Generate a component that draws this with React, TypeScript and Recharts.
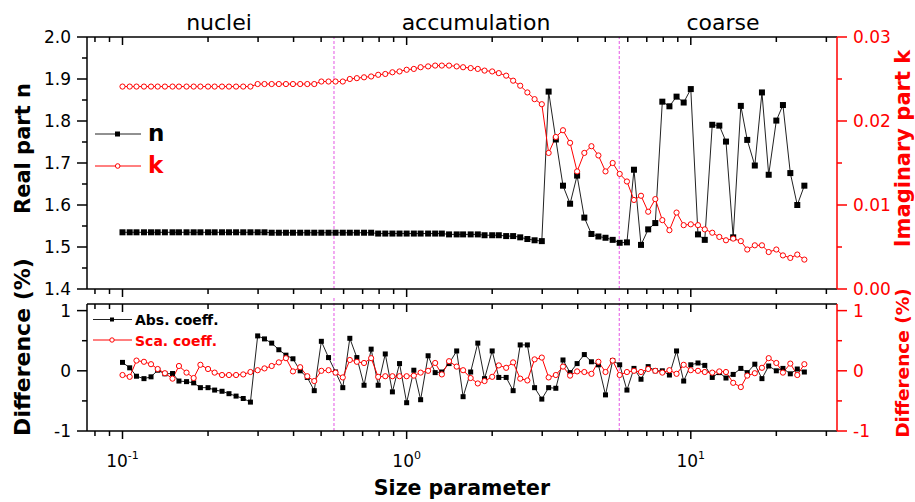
import { ComposedChart, Line, XAxis, YAxis, ReferenceLine } from 'recharts'

const sizeParam = [
  0.1, 0.106, 0.112, 0.119, 0.126, 0.133, 0.141, 0.15, 0.158, 0.168,
  0.178, 0.188, 0.2, 0.211, 0.224, 0.237, 0.251, 0.266, 0.282, 0.299,
  0.316, 0.335, 0.355, 0.376, 0.398, 0.422, 0.447, 0.473, 0.501, 0.531,
  0.562, 0.596, 0.631, 0.668, 0.708, 0.75, 0.794, 0.841, 0.891, 0.944,
  1.0, 1.06, 1.12, 1.19, 1.26, 1.33, 1.41, 1.5, 1.58, 1.68,
  1.78, 1.88, 2.0, 2.11, 2.24, 2.37, 2.51, 2.66, 2.82, 2.99,
  3.16, 3.35, 3.55, 3.76, 3.98, 4.22, 4.47, 4.73, 5.01, 5.31,
  5.62, 5.96, 6.31, 6.68, 7.08, 7.5, 7.94, 8.41, 8.91, 9.44,
  10.0, 10.6, 11.2, 11.9, 12.6, 13.3, 14.1, 15.0, 15.8, 16.8,
  17.8, 18.8, 20.0, 21.1, 22.4, 23.7, 25.1,
]

const realN = [
  1.535, 1.535, 1.535, 1.535, 1.535, 1.535, 1.535, 1.535, 1.535, 1.535,
  1.535, 1.535, 1.535, 1.535, 1.535, 1.535, 1.535, 1.535, 1.535, 1.535,
  1.535, 1.534, 1.534, 1.534, 1.534, 1.534, 1.534, 1.534, 1.534, 1.534,
  1.534, 1.534, 1.534, 1.534, 1.534, 1.534, 1.532, 1.532, 1.532, 1.532,
  1.532, 1.532, 1.532, 1.532, 1.532, 1.532, 1.53, 1.53, 1.53, 1.53,
  1.53, 1.528, 1.528, 1.528, 1.526, 1.526, 1.523, 1.519, 1.516, 1.514,
  1.87, 1.756, 1.646, 1.603, 1.67, 1.57, 1.531, 1.525, 1.522, 1.517,
  1.51, 1.511, 1.684, 1.505, 1.542, 1.557, 1.846, 1.835, 1.858, 1.844,
  1.876, 1.53, 1.517, 1.791, 1.789, 1.751, 1.523, 1.836, 1.755, 1.694,
  1.868, 1.672, 1.801, 1.838, 1.676, 1.6, 1.646,
]

const imagK = [
  0.0241, 0.0241, 0.0241, 0.0241, 0.0241, 0.0241, 0.0241, 0.0241, 0.0241, 0.0241,
  0.0241, 0.0241, 0.0241, 0.0241, 0.0241, 0.0241, 0.0241, 0.0241, 0.0241, 0.0244,
  0.0244, 0.0244, 0.0244, 0.0244, 0.0244, 0.0244, 0.0244, 0.0244, 0.0247, 0.0247,
  0.0247, 0.0247, 0.025, 0.0251, 0.0252, 0.0253, 0.0255, 0.0256, 0.0258, 0.0259,
  0.0261, 0.0262, 0.0264, 0.0265, 0.0266, 0.0266, 0.0266, 0.0265, 0.0264, 0.0263,
  0.0262, 0.026, 0.0259, 0.0257, 0.0254, 0.0248, 0.0242, 0.0234, 0.0226, 0.022,
  0.0162, 0.0181, 0.0189, 0.0174, 0.014, 0.0162, 0.017, 0.0159, 0.014, 0.015,
  0.0137, 0.0128, 0.0106, 0.0111, 0.0092, 0.0107, 0.0082, 0.007, 0.0091, 0.0076,
  0.0077, 0.0076, 0.0071, 0.0067, 0.0062, 0.0058, 0.006, 0.0057, 0.0047, 0.0052,
  0.0052, 0.0044, 0.0047, 0.004, 0.0037, 0.0041, 0.0035,
]

const absDiff = [
  0.14, 0.05, -0.09, -0.13, -0.1, 0.01, -0.05, -0.045, -0.17, -0.18,
  -0.2, -0.28, -0.28, -0.32, -0.34, -0.38, -0.42, -0.46, -0.52, 0.58,
  0.53, 0.46, 0.35, 0.26, 0.2, 0.0, -0.11, -0.33, 0.49, 0.22,
  -0.02, -0.28, 0.54, 0.22, -0.24, 0.36, -0.24, 0.28, -0.35, 0.12,
  -0.53, 0.01, -0.48, 0.25, -0.03, -0.02, 0.12, 0.33, -0.43, -0.02,
  0.46, -0.13, 0.33, -0.11, -0.11, -0.33, 0.43, 0.43, -0.28, -0.47,
  -0.28, -0.29, 0.18, -0.03, 0.12, 0.27, 0.15, 0.1, -0.4, 0.17,
  0.1, -0.32, 0.04, -0.14, 0.07, 0.0, 0.0, -0.07, 0.33, -0.17,
  0.1, 0.13, 0.09, -0.11, -0.03, -0.12, -0.06, 0.04, -0.03, 0.11,
  -0.13, 0.08, 0.0, 0.04, -0.05, 0.03, -0.02,
]

const scaDiff = [
  -0.07, -0.1, 0.17, 0.15, 0.11, 0.03, -0.04, -0.13, 0.08, -0.03,
  -0.12, 0.1, 0.03, -0.03, -0.07, -0.07, -0.07, -0.06, -0.02, 0.01,
  0.04, 0.08, 0.14, 0.21, -0.01, 0.06, -0.09, -0.17, 0.0, 0.01,
  -0.03, -0.11, 0.18, 0.15, 0.13, 0.21, -0.1, -0.09, -0.09, -0.09,
  -0.09, -0.08, -0.03, 0.0, 0.13, -0.06, 0.16, 0.07, 0.01, -0.12,
  -0.21, -0.17, -0.1, 0.09, 0.05, 0.14, -0.13, -0.16, 0.19, 0.22,
  -0.11, -0.07, 0.07, -0.08, -0.01, -0.02, -0.05, 0.15, -0.02, 0.17,
  -0.07, -0.02, 0.0, -0.02, 0.03, 0.0, -0.03, 0.01, -0.05, 0.1,
  0.01, 0.0, -0.02, -0.03, -0.01, -0.02, -0.2, -0.27, -0.08, -0.04,
  0.05, 0.21, 0.13, -0.03, 0.12, -0.07, 0.11,
]

const xTicks = [0.08, 0.09, 0.1, 0.2, 0.3, 0.4, 0.5, 0.6, 0.7, 0.8, 0.9, 1, 2, 3, 4, 5, 6, 7, 8, 9, 10, 20, 30]
const xMajor = [0.1, 1, 10]
const nTicks = [1.4, 1.45, 1.5, 1.55, 1.6, 1.65, 1.7, 1.75, 1.8, 1.85, 1.9, 1.95, 2.0]
const kTicks = [0, 0.005, 0.01, 0.015, 0.02, 0.025, 0.03]
const diffTicks = [-1, -0.5, 0, 0.5, 1]
const modeBounds = [0.555, 5.6]
const modeNames = ['nuclei', 'accumulation', 'coarse']

const X_DOMAIN: [number, number] = [0.075, 32.7]
const RED = '#ff0000'
const MAGENTA = '#e455e4'
const FONT = "'DejaVu Sans', sans-serif"

const topData = sizeParam.map((x, i) => ({ x, n: realN[i], k: imagK[i] }))
const botData = sizeParam.map((x, i) => ({ x, abs: absDiff[i], sca: scaDiff[i] }))

const isMult = (v: number, step: number) => Math.abs(v / step - Math.round(v / step)) < 1e-6

const makeXTick = (withLabels: boolean) => (props: any) => {
  const { x, y, payload } = props
  const v = payload.value
  const major = xMajor.includes(v)
  return (
    <g>
      <line x1={x} x2={x} y1={y} y2={y + (major ? 8 : 5)} stroke="#000" strokeWidth={1.5} />
      {withLabels && major && (
        <text x={x} y={y + 36} textAnchor="middle" fontSize={17} fill="#000" fontFamily={FONT}>
          10<tspan dy={-8} fontSize={11}>{Math.round(Math.log10(v))}</tspan>
        </text>
      )}
    </g>
  )
}

const makeYTick = (side: 'left' | 'right', color: string, majorStep: number, fmt: (v: number) => string) => (props: any) => {
  const { x, y, payload } = props
  const v = payload.value
  const major = isMult(v, majorStep)
  const s = side === 'left' ? -1 : 1
  return (
    <g>
      <line x1={x} x2={x + s * (major ? 10 : 5)} y1={y} y2={y} stroke={color} strokeWidth={1.5} />
      {major && (
        <text x={x + s * 16} y={y} dy="0.36em" textAnchor={side === 'left' ? 'end' : 'start'}
          fontSize={17} fill={color} fontFamily={FONT}>
          {fmt(v)}
        </text>
      )}
    </g>
  )
}

const squareDot = (size: number) => (p: any) => (
  <rect key={`sq-${p.index}`} x={p.cx - size / 2} y={p.cy - size / 2} width={size} height={size} fill="#000" />
)
const circleDot = (p: any) => (
  <circle key={`ci-${p.index}`} cx={p.cx} cy={p.cy} r={2.6} fill="#fff" stroke={RED} strokeWidth={1} />
)

const xAxisCommon = {
  dataKey: 'x',
  type: 'number' as const,
  scale: 'log' as const,
  domain: X_DOMAIN,
  allowDataOverflow: true,
  ticks: xTicks,
  interval: 0 as const,
  tickSize: 0,
  tickMargin: 0,
  tickLine: false,
  axisLine: { stroke: '#000', strokeWidth: 1.5 },
}

function TopPanel() {
  return (
    <ComposedChart width={915} height={305} data={topData} margin={{ top: 36, right: 0, bottom: 0, left: 0 }}>
      <XAxis xAxisId="bx" {...xAxisCommon} height={16} tick={makeXTick(false)} />
      <XAxis xAxisId="tx" orientation="top" {...xAxisCommon} height={1} tick={makeXTick(false)} />
      <YAxis yAxisId="n" domain={[1.4, 2.0]} ticks={nTicks} interval={0} width={87} tickSize={0} tickMargin={0}
        tickLine={false} axisLine={{ stroke: '#000', strokeWidth: 1.5 }}
        tick={makeYTick('left', '#000', 0.1, (v) => v.toFixed(1))} />
      <YAxis yAxisId="k" orientation="right" domain={[0, 0.03]} ticks={kTicks} interval={0} width={78} tickSize={0}
        tickMargin={0} tickLine={false} axisLine={{ stroke: RED, strokeWidth: 1.5 }}
        tick={makeYTick('right', RED, 0.01, (v) => v.toFixed(2))} />
      {modeBounds.map((b) => (
        <ReferenceLine key={b} xAxisId="bx" yAxisId="n" x={b} stroke={MAGENTA} strokeWidth={1} strokeDasharray="3 2" />
      ))}
      <Line xAxisId="bx" yAxisId="n" dataKey="n" type="linear" stroke="#222" strokeWidth={1}
        dot={squareDot(6)} isAnimationActive={false} />
      <Line xAxisId="bx" yAxisId="k" dataKey="k" type="linear" stroke={RED} strokeWidth={1}
        dot={circleDot} isAnimationActive={false} />
    </ComposedChart>
  )
}

function BottomPanel() {
  return (
    <ComposedChart width={915} height={205} data={botData} margin={{ top: 6, right: 0, bottom: 0, left: 0 }}>
      <XAxis xAxisId="bx" {...xAxisCommon} height={71} tick={makeXTick(true)} />
      <XAxis xAxisId="tx" orientation="top" {...xAxisCommon} height={1} tick={makeXTick(false)} />
      <YAxis yAxisId="dl" domain={[-1, 1.11]} ticks={diffTicks} interval={0} width={87} tickSize={0} tickMargin={0}
        allowDataOverflow tickLine={false} axisLine={{ stroke: '#000', strokeWidth: 1.5 }}
        tick={makeYTick('left', '#000', 1, (v) => String(v))} />
      <YAxis yAxisId="dr" orientation="right" domain={[-1, 1.11]} ticks={diffTicks} interval={0} width={78}
        tickSize={0} tickMargin={0} allowDataOverflow tickLine={false} axisLine={{ stroke: RED, strokeWidth: 1.5 }}
        tick={makeYTick('right', RED, 1, (v) => String(v))} />
      {modeBounds.map((b) => (
        <ReferenceLine key={b} xAxisId="bx" yAxisId="dl" ifOverflow="visible" stroke={MAGENTA} strokeWidth={1}
          strokeDasharray="3 2" segment={[{ x: b, y: -1 }, { x: b, y: 1.36 }]} />
      ))}
      <Line xAxisId="bx" yAxisId="dl" dataKey="abs" type="linear" stroke="#222" strokeWidth={1}
        dot={squareDot(5)} isAnimationActive={false} />
      <Line xAxisId="bx" yAxisId="dl" dataKey="sca" type="linear" stroke={RED} strokeWidth={1}
        dot={circleDot} isAnimationActive={false} />
    </ComposedChart>
  )
}

function Overlay() {
  const modeX = [219, 476, 723]
  return (
    <svg width={915} height={502} style={{ position: 'absolute', left: 0, top: 0, pointerEvents: 'none' }}
      fontFamily={FONT}>
      {modeNames.map((m, i) => (
        <text key={m} x={modeX[i]} y={30} textAnchor="middle" fontSize={22} fill="#000">{m}</text>
      ))}
      <text transform="translate(30,148.5) rotate(-90)" textAnchor="middle" fontSize={21} fontWeight="bold" fill="#000">
        Real part n
      </text>
      <text transform="translate(30,347) rotate(-90)" textAnchor="middle" fontSize={22} fontWeight="bold" fill="#000">
        Difference (%)
      </text>
      <text transform="translate(910,148.5) rotate(-90)" textAnchor="middle" fontSize={21} fontWeight="bold" fill={RED}>
        Imaginary part k
      </text>
      <text transform="translate(909,363) rotate(-90)" textAnchor="middle" fontSize={18.5} fontWeight="bold" fill={RED}>
        Difference (%)
      </text>
      <text x={462} y={495} textAnchor="middle" fontSize={20.5} fontWeight="bold" fill="#000">Size parameter</text>

      {/* top legend */}
      <line x1={95} x2={141} y1={134} y2={134} stroke="#222" strokeWidth={1} />
      <rect x={115} y={131.5} width={5} height={5} fill="#000" />
      <text x={148} y={141} fontSize={23} fontWeight="bold" fill="#000">n</text>
      <line x1={95} x2={141} y1={166} y2={166} stroke={RED} strokeWidth={1} />
      <circle cx={117.7} cy={166} r={2.3} fill="#fff" stroke={RED} strokeWidth={1} />
      <text x={148} y={173} fontSize={23} fontWeight="bold" fill={RED}>k</text>

      {/* bottom legend */}
      <line x1={93} x2={132} y1={319.5} y2={319.5} stroke="#222" strokeWidth={1} />
      <rect x={110} y={317.5} width={4} height={4} fill="#000" />
      <text x={135} y={324.5} fontSize={14} fontWeight="bold" fill="#000">Abs. coeff.</text>
      <line x1={93} x2={132} y1={340} y2={340} stroke={RED} strokeWidth={1} />
      <circle cx={112} cy={340} r={2.2} fill="#fff" stroke={RED} strokeWidth={1} />
      <text x={135} y={345.5} fontSize={14} fontWeight="bold" fill={RED}>Sca. coeff.</text>
    </svg>
  )
}

export default function App() {
  return (
    <div style={{ position: 'absolute', left: 0, top: 0, width: 915, height: 502, overflow: 'hidden', background: '#fff', fontFamily: FONT }}>
      <div style={{ position: 'absolute', left: 0, top: 0 }}>
        <TopPanel />
      </div>
      <div style={{ position: 'absolute', left: 0, top: 297 }}>
        <BottomPanel />
      </div>
      <Overlay />
    </div>
  )
}
